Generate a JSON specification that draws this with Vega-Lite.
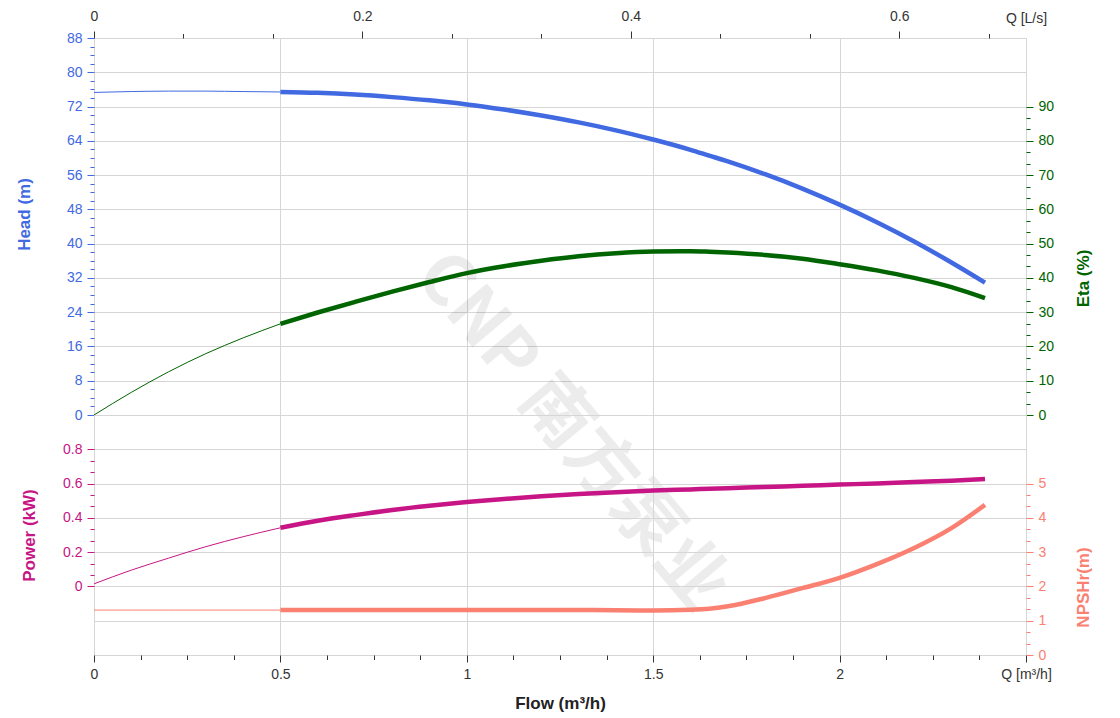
{
  "$schema": "https://vega.github.io/schema/vega-lite/v6.json",
  "padding": {"left": 14, "top": 8, "right": 5, "bottom": 5},
  "spacing": 0,
  "bounds": "flush",
  "config": {
    "font": "Liberation Sans",
    "view": {"stroke": "#cccccc"},
    "axis": {
      "domain": false,
      "labelFont": "Liberation Sans",
      "labelFontSize": 14,
      "titleFont": "Liberation Sans",
      "titleFontSize": 17,
      "titleFontWeight": "bold",
      "gridColor": "#d6d6d6",
      "labelFlush": false,
      "labelOverlap": false,
      "labelPadding": 5
    }
  },
  "datasets": {
    "pump": [
      {"q": 0, "seg": "thin", "head": 75.3, "eta": 0, "power": 0.015, "npsh": 1.31},
      {"q": 0.1, "seg": "thin", "head": 75.5, "eta": 6.6, "power": 0.095, "npsh": 1.31},
      {"q": 0.2, "seg": "thin", "head": 75.6, "eta": 12.6, "power": 0.165, "npsh": 1.31},
      {"q": 0.3, "seg": "thin", "head": 75.6, "eta": 17.9, "power": 0.232, "npsh": 1.31},
      {"q": 0.4, "seg": "thin", "head": 75.5, "eta": 22.5, "power": 0.29, "npsh": 1.31},
      {"q": 0.5, "seg": "thin", "head": 75.4, "eta": 26.6, "power": 0.342, "npsh": 1.31},
      {"q": 0.5, "seg": "thick", "head": 75.4, "eta": 26.6, "power": 0.342, "npsh": 1.31},
      {"q": 0.6, "seg": "thick", "head": 75.2, "eta": 29.9, "power": 0.383, "npsh": 1.31},
      {"q": 0.7, "seg": "thick", "head": 74.8, "eta": 33.0, "power": 0.416, "npsh": 1.31},
      {"q": 0.8, "seg": "thick", "head": 74.2, "eta": 36.0, "power": 0.446, "npsh": 1.31},
      {"q": 0.9, "seg": "thick", "head": 73.45, "eta": 38.8, "power": 0.471, "npsh": 1.31},
      {"q": 1.0, "seg": "thick", "head": 72.5, "eta": 41.4, "power": 0.492, "npsh": 1.31},
      {"q": 1.1, "seg": "thick", "head": 71.3, "eta": 43.4, "power": 0.51, "npsh": 1.31},
      {"q": 1.2, "seg": "thick", "head": 69.9, "eta": 45.0, "power": 0.526, "npsh": 1.31},
      {"q": 1.3, "seg": "thick", "head": 68.3, "eta": 46.3, "power": 0.539, "npsh": 1.31},
      {"q": 1.4, "seg": "thick", "head": 66.45, "eta": 47.2, "power": 0.55, "npsh": 1.305},
      {"q": 1.5, "seg": "thick", "head": 64.3, "eta": 47.7, "power": 0.559, "npsh": 1.3},
      {"q": 1.6, "seg": "thick", "head": 61.9, "eta": 47.8, "power": 0.566, "npsh": 1.32},
      {"q": 1.65, "seg": "thick", "head": 60.55, "eta": 47.65, "power": 0.5695, "npsh": 1.35},
      {"q": 1.7, "seg": "thick", "head": 59.2, "eta": 47.4, "power": 0.573, "npsh": 1.42},
      {"q": 1.8, "seg": "thick", "head": 56.2, "eta": 46.7, "power": 0.58, "npsh": 1.66},
      {"q": 1.9, "seg": "thick", "head": 52.85, "eta": 45.6, "power": 0.587, "npsh": 1.95},
      {"q": 2.0, "seg": "thick", "head": 49.1, "eta": 44.0, "power": 0.594, "npsh": 2.25},
      {"q": 2.1, "seg": "thick", "head": 45.0, "eta": 42.2, "power": 0.601, "npsh": 2.65},
      {"q": 2.2, "seg": "thick", "head": 40.5, "eta": 40.0, "power": 0.609, "npsh": 3.12},
      {"q": 2.3, "seg": "thick", "head": 35.6, "eta": 37.3, "power": 0.617, "npsh": 3.7},
      {"q": 2.39, "seg": "thick", "head": 30.9, "eta": 34.1, "power": 0.626, "npsh": 4.38}
    ],
    "mark": [
      {"q": 1.28, "h": -4, "t": "CNP 南方泵业"}
    ]
  },
  "vconcat": [
    {
      "width": 932,
      "height": 377,
      "layer": [
        {
          "data": {"name": "mark"},
          "mark": {"type": "text", "angle": 50, "fontSize": 70, "fontWeight": "bold", "font": "Noto Sans CJK SC", "color": "#000000", "opacity": 0.07, "align": "center", "baseline": "middle"},
          "encoding": {
            "x": {"field": "q", "type": "quantitative", "scale": {"domain": [0, 2.5], "nice": false, "zero": false}},
            "y": {"field": "h", "type": "quantitative", "scale": {"domain": [0, 88], "nice": false}, "axis": null},
            "text": {"field": "t", "type": "nominal"}
          }
        },
        {
          "data": {"name": "pump"},
          "mark": {"type": "line", "color": "#4169E1", "interpolate": "monotone"},
          "encoding": {
            "x": {
              "field": "q", "type": "quantitative",
              "scale": {"domain": [0, 2.5], "nice": false, "zero": false},
              "axis": {
                "orient": "top",
                "title": null,
                "values": [0, 0.24, 0.48, 0.5, 0.72, 0.96, 1, 1.2, 1.44, 1.5, 1.68, 1.92, 2, 2.16, 2.4, 2.5],
                "labelExpr": "datum.value > 2.45 ? 'Q [L/s]' : (abs(datum.value/0.72 - round(datum.value/0.72)) < 0.001 ? format(datum.value/3.6, '.1~f') : '')",
                "labelColor": "#333333",
                "labelPadding": 8,
                "tickColor": "#333333",
                "tickSize": {"condition": {"test": "abs(datum.value/0.72 - round(datum.value/0.72)) < 0.001", "value": 7}, "value": 4.5},
                "tickOpacity": {"condition": {"test": "datum.value % 0.5 == 0 && datum.value > 0", "value": 0}, "value": 1},
                "grid": true,
                "gridOpacity": {"condition": {"test": "datum.value % 0.5 == 0", "value": 1}, "value": 0}
              }
            },
            "y": {
              "field": "head", "type": "quantitative",
              "scale": {"domain": [0, 88], "nice": false},
              "axis": {
                "orient": "left",
                "title": "Head (m)",
                "titleColor": "#4169E1",
                "titleAngle": 270,
                "titleAlign": "center",
                "titleBaseline": "middle",
                "titleX": -70,
                "titleY": 176,
                "values": [0, 2, 4, 6, 8, 10, 12, 14, 16, 18, 20, 22, 24, 26, 28, 30, 32, 34, 36, 38, 40, 42, 44, 46, 48, 50, 52, 54, 56, 58, 60, 62, 64, 66, 68, 70, 72, 74, 76, 78, 80, 82, 84, 86, 88],
                "labelExpr": "datum.value % 8 == 0 ? format(datum.value, 'd') : ''",
                "labelColor": "#4169E1",
                "tickColor": "#4169E1",
                "tickSize": {"condition": {"test": "datum.value % 8 == 0", "value": 7}, "value": 4},
                "grid": true,
                "gridOpacity": {"condition": {"test": "datum.value % 8 == 0", "value": 1}, "value": 0}
              }
            },
            "strokeWidth": {"field": "seg", "type": "nominal", "scale": {"domain": ["thin", "thick"], "range": [1, 4.5]}, "legend": null}
          }
        },
        {
          "data": {"name": "pump"},
          "mark": {"type": "line", "color": "#006400", "interpolate": "monotone"},
          "encoding": {
            "x": {"field": "q", "type": "quantitative", "scale": {"domain": [0, 2.5], "nice": false, "zero": false}},
            "y": {
              "field": "eta", "type": "quantitative",
              "scale": {"domain": [0, 110], "nice": false},
              "axis": {
                "orient": "right",
                "title": "Eta (%)",
                "titleColor": "#006400",
                "titleAngle": 270,
                "titleAlign": "center",
                "titleBaseline": "middle",
                "titleX": 57,
                "titleY": 240,
                "values": [0, 3.3333, 6.6667, 10, 13.3333, 16.6667, 20, 23.3333, 26.6667, 30, 33.3333, 36.6667, 40, 43.3333, 46.6667, 50, 53.3333, 56.6667, 60, 63.3333, 66.6667, 70, 73.3333, 76.6667, 80, 83.3333, 86.6667, 90],
                "labelExpr": "abs(datum.value/10 - round(datum.value/10)) < 0.01 ? format(datum.value, 'd') : ''",
                "labelColor": "#006400",
                "tickColor": "#006400",
                "tickSize": {"condition": {"test": "abs(datum.value/10 - round(datum.value/10)) < 0.01", "value": 7}, "value": 4},
                "grid": false
              }
            },
            "strokeWidth": {"field": "seg", "type": "nominal", "scale": {"domain": ["thin", "thick"], "range": [1, 4.5]}, "legend": null}
          }
        }
      ],
      "resolve": {"scale": {"y": "independent"}, "axis": {"y": "independent"}}
    },
    {
      "width": 932,
      "height": 240,
      "data": {"name": "pump"},
      "layer": [
        {
          "mark": {"type": "line", "color": "#C71585", "interpolate": "monotone"},
          "encoding": {
            "x": {
              "field": "q", "type": "quantitative",
              "scale": {"domain": [0, 2.5], "nice": false, "zero": false},
              "axis": {
                "orient": "bottom",
                "title": "Flow (m³/h)",
                "titleColor": "#222222",
                "titleBaseline": "middle",
                "titleY": 48,
                "values": [0, 0.125, 0.25, 0.375, 0.5, 0.625, 0.75, 0.875, 1, 1.125, 1.25, 1.375, 1.5, 1.625, 1.75, 1.875, 2, 2.125, 2.25, 2.375, 2.5],
                "labelExpr": "datum.value > 2.45 ? 'Q [m³/h]' : (datum.value % 0.5 == 0 ? format(datum.value, '~g') : '')",
                "labelColor": "#333333",
                "labelPadding": 5,
                "tickColor": "#333333",
                "tickSize": {"condition": {"test": "datum.value % 0.5 == 0", "value": 7}, "value": 4.5},
                "grid": true,
                "gridOpacity": {"condition": {"test": "datum.value % 0.5 == 0", "value": 1}, "value": 0}
              }
            },
            "y": {
              "field": "power", "type": "quantitative",
              "scale": {"domain": [-0.4, 1.0], "nice": false, "zero": false},
              "axis": {
                "orient": "left",
                "title": "Power (kW)",
                "titleColor": "#C71585",
                "titleAngle": 270,
                "titleAlign": "center",
                "titleBaseline": "middle",
                "titleX": -65,
                "titleY": 120,
                "values": [-0.4, -0.2, 0, 0.066667, 0.133333, 0.2, 0.266667, 0.333333, 0.4, 0.466667, 0.533333, 0.6, 0.666667, 0.733333, 0.8, 1.0],
                "labelExpr": "(abs(datum.value*5 - round(datum.value*5)) < 0.01 && datum.value > -0.01 && datum.value < 0.81) ? format(datum.value, '.1~f') : ''",
                "labelColor": "#C71585",
                "tickColor": "#C71585",
                "tickSize": {"condition": {"test": "abs(datum.value*5 - round(datum.value*5)) < 0.01", "value": 7}, "value": 4},
                "tickOpacity": {"condition": {"test": "datum.value > -0.01 && datum.value < 0.81", "value": 1}, "value": 0},
                "grid": true,
                "gridOpacity": {"condition": {"test": "abs(datum.value*5 - round(datum.value*5)) < 0.01", "value": 1}, "value": 0}
              }
            },
            "strokeWidth": {"field": "seg", "type": "nominal", "scale": {"domain": ["thin", "thick"], "range": [1, 4.5]}, "legend": null}
          }
        },
        {
          "mark": {"type": "line", "color": "#FA8072", "interpolate": "monotone"},
          "encoding": {
            "x": {"field": "q", "type": "quantitative", "scale": {"domain": [0, 2.5], "nice": false, "zero": false}},
            "y": {
              "field": "npsh", "type": "quantitative",
              "scale": {"domain": [0, 7], "nice": false},
              "axis": {
                "orient": "right",
                "title": "NPSHr(m)",
                "titleColor": "#FA8072",
                "titleAngle": 270,
                "titleAlign": "center",
                "titleBaseline": "middle",
                "titleX": 57,
                "titleY": 172,
                "values": [0, 0.33333, 0.66667, 1, 1.33333, 1.66667, 2, 2.33333, 2.66667, 3, 3.33333, 3.66667, 4, 4.33333, 4.66667, 5],
                "labelExpr": "abs(datum.value - round(datum.value)) < 0.01 ? format(datum.value, 'd') : ''",
                "labelColor": "#FA8072",
                "tickColor": "#FA8072",
                "tickSize": {"condition": {"test": "abs(datum.value - round(datum.value)) < 0.01", "value": 7}, "value": 4},
                "grid": false
              }
            },
            "strokeWidth": {"field": "seg", "type": "nominal", "scale": {"domain": ["thin", "thick"], "range": [1, 4.5]}, "legend": null}
          }
        }
      ],
      "resolve": {"scale": {"y": "independent"}, "axis": {"y": "independent"}}
    }
  ]
}
